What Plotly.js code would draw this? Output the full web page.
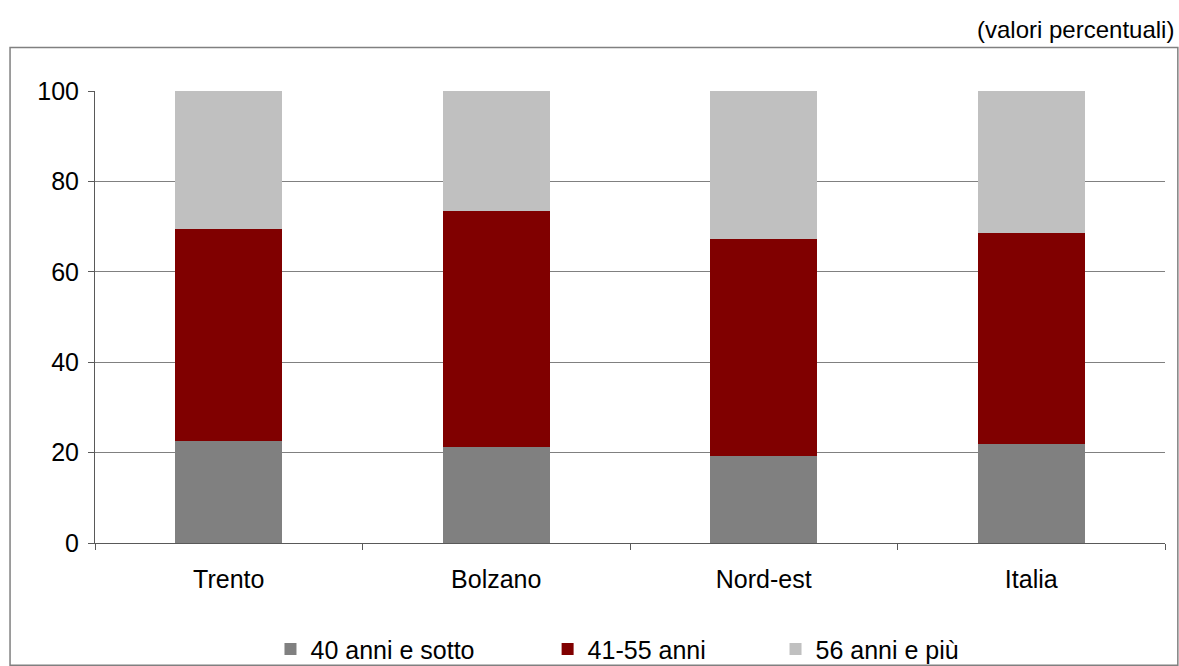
<!DOCTYPE html>
<html>
<head>
<meta charset="utf-8">
<script src="https://cdn.plot.ly/plotly-3.0.1.min.js"></script>
<style>html,body{margin:0;padding:0;background:#fff;}#chart{width:1179px;height:666px;}</style>
</head>
<body>
<div id="chart"></div>
<script>
const categories = ["Trento", "Bolzano", "Nord-est", "Italia"];
const seriesNames = ["40 anni e sotto", "41-55 anni", "56 anni e più"];
const under40 = [22.6, 21.3, 19.3, 21.9];
const age41to55 = [46.9, 52.2, 48.0, 46.7];
const over56 = [30.5, 26.5, 32.7, 31.4];
const yTicks = [0, 20, 40, 60, 80, 100];
const unitNote = "(valori percentuali)";

const colors = ["#808080", "#800000", "#C0C0C0"];
const values = [under40, age41to55, over56];
const legendIds = ["legend", "legend2", "legend3"];

const traces = values.map((v, i) => ({
  type: "bar",
  x: categories,
  y: v,
  name: seriesNames[i],
  marker: {color: colors[i], line: {width: 0}},
  legend: legendIds[i],
  hoverinfo: "skip"
}));

const font = {family: "Liberation Sans, Arial, sans-serif", size: 25, color: "#000"};
const legendBase = {orientation: "h", yanchor: "middle", xanchor: "left", y: -0.235,
  font: font, bgcolor: "rgba(0,0,0,0)", borderwidth: 0, itemwidth: 30};

const layout = {
  width: 1179, height: 666,
  margin: {l: 95, r: 14, t: 91, b: 123, autoexpand: false},
  paper_bgcolor: "#fff", plot_bgcolor: "#fff",
  font: font,
  barmode: "stack",
  bargap: 0.6,
  showlegend: true,
  legend: Object.assign({}, legendBase, {x: 0.164}),
  legend2: Object.assign({}, legendBase, {x: 0.423}),
  legend3: Object.assign({}, legendBase, {x: 0.636}),
  xaxis: {
    type: "category",
    showline: true, linecolor: "#595959", linewidth: 1,
    ticks: "outside", tickson: "boundaries", ticklen: 6, tickcolor: "#595959",
    showgrid: false, zeroline: false,
    ticklabelstandoff: 14,
    tickfont: font
  },
  yaxis: {
    range: [0, 100],
    tickvals: yTicks,
    ticktext: yTicks.map(String),
    showline: true, linecolor: "#595959", linewidth: 1,
    ticks: "outside", ticklen: 6, tickcolor: "#595959",
    showgrid: true, gridcolor: "#808080", gridwidth: 1,
    zeroline: false,
    ticklabelstandoff: 4,
    tickfont: font
  },
  shapes: [{
    type: "rect", xref: "paper", yref: "paper",
    x0: -0.0794, x1: 1.012, y0: -0.2705, y1: 1.096,
    line: {color: "#808080", width: 1.5}, fillcolor: "rgba(0,0,0,0)", layer: "below"
  }],
  annotations: [{
    text: unitNote, xref: "paper", yref: "paper",
    x: 1.0103, y: 1.135, xanchor: "right", yanchor: "middle",
    showarrow: false, font: {family: font.family, size: 24, color: "#000"}
  }]
};

Plotly.newPlot("chart", traces, layout, {displayModeBar: false, staticPlot: true});
</script>
</body>
</html>
